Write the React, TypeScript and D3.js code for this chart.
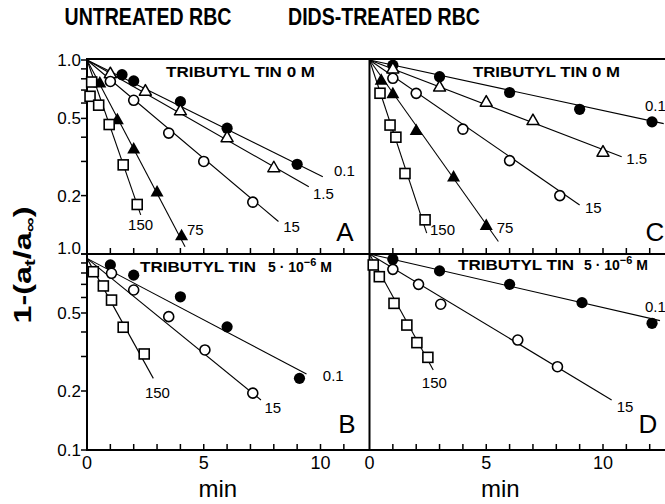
import React from "react";
import * as d3 from "d3";

const W = 665;
const H = 504;
const FONT = "'Liberation Sans', Arial, Helvetica, sans-serif";

// ---------- DATA (time in min, value = 1-(a_t/a_inf)) ----------
// Panel A: untreated RBC, tributyl tin 0 M
const aC01T = [1.5, 2, 4, 6, 9];
const aC01V = [0.84, 0.78, 0.61, 0.445, 0.29];
const aC15T = [1, 2.5, 4, 6, 8];
const aC15V = [0.855, 0.695, 0.55, 0.4, 0.28];
const aC150T = [1, 2, 3.5, 5, 7.1];
const aC150V = [0.775, 0.62, 0.42, 0.3, 0.185];
const aC75T = [0.55, 1.3, 2, 3, 4.05];
const aC75V = [0.765, 0.495, 0.35, 0.21, 0.125];
const aC1500T = [0.2, 0.13, 0.5, 0.95, 1.55, 2.15];
const aC1500V = [0.77, 0.65, 0.585, 0.465, 0.288, 0.18];

// Panel B: untreated RBC, tributyl tin 5e-6 M
const bC01T = [1, 2, 4, 6, 9.1];
const bC01V = [0.88, 0.78, 0.605, 0.425, 0.232];
const bC150T = [1.05, 2, 3.5, 5.05, 7.1];
const bC150V = [0.797, 0.655, 0.479, 0.324, 0.195];
const bC1500T = [0.27, 0.7, 1.05, 1.55, 2.45];
const bC1500V = [0.812, 0.687, 0.582, 0.423, 0.309];

// Panel C: DIDS-treated RBC, tributyl tin 0 M
const cC01T = [1, 3, 6, 9, 12.1];
const cC01V = [0.94, 0.82, 0.68, 0.557, 0.48];
const cC15T = [1, 3, 5, 7, 10];
const cC15V = [0.905, 0.73, 0.61, 0.49, 0.337];
const cC150T = [1, 2, 4, 6, 8.15];
const cC150V = [0.805, 0.673, 0.44, 0.303, 0.2];
const cC75T = [0.5, 1, 2, 3.6, 5];
const cC75V = [0.79, 0.674, 0.436, 0.251, 0.141];
const cC1500T = [0.45, 0.88, 1.13, 1.52, 2.38];
const cC1500V = [0.674, 0.462, 0.4, 0.26, 0.15];

// Panel D: DIDS-treated RBC, tributyl tin 5e-6 M
const dC01T = [1, 3, 6, 9.1, 12.1];
const dC01V = [0.94, 0.82, 0.7, 0.565, 0.443];
const dC150T = [1, 2.1, 3.05, 6.35, 8.05];
const dC150V = [0.835, 0.7, 0.554, 0.364, 0.266];
const dC1500T = [0.16, 0.42, 1.05, 1.6, 2.03, 2.5];
const dC1500V = [0.879, 0.766, 0.56, 0.434, 0.353, 0.297];

// fitted lines: [start t, start v, end t, end v]
const aLines = [[0, 1, 10.1, 0.25], [0, 1, 9.5, 0.222], [0, 1, 8.2, 0.147], [0, 1, 4.2, 0.109], [0, 1, 2.3, 0.159]];
const bLines = [[0, 0.95, 9.4, 0.244], [0, 0.95, 7.45, 0.18], [0, 0.95, 2.84, 0.232]];
const cLines = [[0, 1, 12.6, 0.47], [0, 1, 10.8, 0.317], [0, 1, 9.0, 0.179], [0, 1, 5.52, 0.116], [0, 1, 2.45, 0.128]];
const dLines = [[0, 1, 12.44, 0.457], [0, 1, 10.37, 0.18], [0, 1, 2.73, 0.256]];

// concentration labels and where they sit (t, v)
const aLabels = ["0.1", "1.5", "15", "75", "150"];
const aLabelAt = [[10.58, 0.268], [9.68, 0.205], [8.4, 0.139], [4.28, 0.133], [1.76, 0.141]];
const bLabels = ["0.1", "15", "150"];
const bLabelAt = [[10.1, 0.238], [7.6, 0.165], [2.48, 0.196]];
const cLabels = ["0.1", "1.5", "15", "75", "150"];
const cLabelAt = [[11.8, 0.579], [11.0, 0.309], [9.23, 0.174], [5.45, 0.137], [2.59, 0.133]];
const dLabels = ["0.1", "15", "150"];
const dLabelAt = [[11.8, 0.538], [10.59, 0.166], [2.24, 0.221]];

const yTickVals = [0.1, 0.2, 0.3, 0.4, 0.5, 0.6, 0.7, 0.8, 0.9, 1.0];
const yLabelsTop = ["1.0", "0.5", "0.2"];
const yLabelsBot = ["1.0", "0.5", "0.2", "0.1"];
const xLabelVals = [0, 5, 10];
const columnTitles = ["UNTREATED RBC", "DIDS-TREATED RBC"];
const panelLetters = ["A", "B", "C", "D"];

type Mk = "fc" | "oc" | "ot" | "ft" | "os";

function Marker({ type, x, y }: { type: Mk; x: number; y: number }) {
  const sw = 1.6;
  switch (type) {
    case "fc":
      return <circle cx={x} cy={y} r={5.6} fill="#000" />;
    case "oc":
      return <circle cx={x} cy={y} r={5} fill="#fff" stroke="#000" strokeWidth={sw} />;
    case "os":
      return <rect x={x - 5} y={y - 5} width={10} height={10} fill="#fff" stroke="#000" strokeWidth={sw} />;
    case "ot":
      return <path d={`M${x},${y - 6} L${x + 6},${y + 4.5} L${x - 6},${y + 4.5}Z`} fill="#fff" stroke="#000" strokeWidth={1.5} strokeLinejoin="round" />;
    case "ft":
      return <path d={`M${x},${y - 6.5} L${x + 6.5},${y + 5} L${x - 6.5},${y + 5}Z`} fill="#000" />;
  }
  return null;
}

const x0L = 87;
const x0R = 369.5;
const pxPerMin = 23.35;
const yTop0 = 60;
const yMid = 254;
const yBot = 450;

const xL = d3.scaleLinear().domain([0, (x0R - x0L) / pxPerMin]).range([x0L, x0R]);
const xR = d3.scaleLinear().domain([0, (W - x0R) / pxPerMin]).range([x0R, W]);
const yT = d3.scaleLog().domain([0.1, 1]).range([yMid, yTop0]);
const yB = d3.scaleLog().domain([0.1, 1]).range([yBot, yMid]);

type Series = { mk: Mk; t: number[]; v: number[] };
type Panel = {
  x: d3.ScaleLinear<number, number>;
  y: d3.ScaleLogarithmic<number, number>;
  series: Series[];
  lines: number[][];
  labels: string[];
  labelAt: number[][];
};

const panels: Panel[] = [
  {
    x: xL, y: yT,
    series: [
      { mk: "fc", t: aC01T, v: aC01V },
      { mk: "ot", t: aC15T, v: aC15V },
      { mk: "oc", t: aC150T, v: aC150V },
      { mk: "ft", t: aC75T, v: aC75V },
      { mk: "os", t: aC1500T, v: aC1500V },
    ],
    lines: aLines, labels: aLabels, labelAt: aLabelAt,
  },
  {
    x: xL, y: yB,
    series: [
      { mk: "fc", t: bC01T, v: bC01V },
      { mk: "oc", t: bC150T, v: bC150V },
      { mk: "os", t: bC1500T, v: bC1500V },
    ],
    lines: bLines, labels: bLabels, labelAt: bLabelAt,
  },
  {
    x: xR, y: yT,
    series: [
      { mk: "fc", t: cC01T, v: cC01V },
      { mk: "ot", t: cC15T, v: cC15V },
      { mk: "oc", t: cC150T, v: cC150V },
      { mk: "ft", t: cC75T, v: cC75V },
      { mk: "os", t: cC1500T, v: cC1500V },
    ],
    lines: cLines, labels: cLabels, labelAt: cLabelAt,
  },
  {
    x: xR, y: yB,
    series: [
      { mk: "fc", t: dC01T, v: dC01V },
      { mk: "oc", t: dC150T, v: dC150V },
      { mk: "os", t: dC1500T, v: dC1500V },
    ],
    lines: dLines, labels: dLabels, labelAt: dLabelAt,
  },
];

const lineGen = d3.line<number[]>();

export default function App() {
  const axisW = 2;
  const tickLen = 6;
  const ticksL = d3.range(1, 12);
  const ticksR = d3.range(1, 13);

  return (
    <svg width={W} height={H} viewBox={`0 0 ${W} ${H}`} style={{ position: "absolute", left: 0, top: 0, background: "#fff" }} fontFamily={FONT}>
      <rect x={0} y={0} width={W} height={H} fill="#fff" />
      {/* column titles */}
      <text x={148} y={25} textAnchor="middle" fontSize={23} fontWeight="bold" textLength={167} lengthAdjust="spacingAndGlyphs">{columnTitles[0]}</text>
      <text x={384} y={25} textAnchor="middle" fontSize={23} fontWeight="bold" textLength={192} lengthAdjust="spacingAndGlyphs">{columnTitles[1]}</text>

      {/* lines */}
      {panels.map((p, pi) => (
        <g key={"l" + pi}>
          {p.lines.map((l, li) => (
            <path key={li} d={lineGen([[p.x(l[0]), p.y(l[1])], [p.x(l[2]), p.y(l[3])]]) || ""} stroke="#000" strokeWidth={1.1} fill="none" />
          ))}
        </g>
      ))}

      {/* frame */}
      <line x1={x0L} x2={x0L} y1={yTop0 - 1} y2={yBot} stroke="#000" strokeWidth={axisW} />
      <line x1={x0R} x2={x0R} y1={yTop0 - 1} y2={yBot} stroke="#000" strokeWidth={axisW} />
      <line x1={x0L - 1} x2={W} y1={yTop0 - 1} y2={yTop0 - 1} stroke="#000" strokeWidth={axisW} />
      <line x1={x0L - 1} x2={W} y1={yMid} y2={yMid} stroke="#000" strokeWidth={axisW} />
      <line x1={x0L - 1} x2={W} y1={yBot} y2={yBot} stroke="#000" strokeWidth={axisW} />

      {/* x ticks */}
      {[yMid, yBot].map((yy) => (
        <g key={"xt" + yy}>
          {ticksL.map((t) => (
            <line key={"L" + t} x1={xL(t)} x2={xL(t)} y1={yy} y2={yy - tickLen} stroke="#000" strokeWidth={1.5} />
          ))}
          {ticksR.map((t) => (
            <line key={"R" + t} x1={xR(t)} x2={xR(t)} y1={yy} y2={yy - tickLen} stroke="#000" strokeWidth={1.5} />
          ))}
        </g>
      ))}
      {/* x tick labels */}
      {[xL, xR].map((sc, i) => (
        <g key={"xl" + i}>
          {xLabelVals.map((v) => (
            <text key={v} x={sc(v)} y={469} textAnchor="middle" fontSize={18}>{String(v)}</text>
          ))}
          <text x={sc(5.6)} y={497} textAnchor="middle" fontSize={24}>min</text>
        </g>
      ))}

      {/* y ticks */}
      {[yT, yB].map((sc, i) => (
        <g key={"yt" + i}>
          {yTickVals.map((v) => (
            <line key={v} x1={x0L - tickLen} x2={x0L} y1={sc(v)} y2={sc(v)} stroke="#000" strokeWidth={1.5} />
          ))}
        </g>
      ))}
      {yLabelsTop.map((s) => (
        <text key={"yt" + s} x={81} y={yT(+s)} dy="0.35em" textAnchor="end" fontSize={17}>{s}</text>
      ))}
      {yLabelsBot.map((s) => (
        <text key={"yb" + s} x={81} y={+s === 1 ? yB(1) - 6 : yB(+s)} dy="0.35em" textAnchor="end" fontSize={17}>{s}</text>
      ))}

      {/* y axis title */}
      <text transform="translate(31,265) rotate(-90)" textAnchor="middle" fontSize={23} fontWeight="bold" textLength={117} lengthAdjust="spacingAndGlyphs">
        1-(a<tspan fontSize={15} dy={4}>t</tspan><tspan dy={-4}>/a</tspan><tspan fontSize={15} dy={4}>∞</tspan><tspan dy={-4}>)</tspan>
      </text>

      {/* panel notes */}
      <text x={166} y={76.5} fontSize={14} fontWeight="bold" textLength={149} lengthAdjust="spacingAndGlyphs">TRIBUTYL  TIN  0 M</text>
      <text x={473} y={76.5} fontSize={14} fontWeight="bold" textLength={147} lengthAdjust="spacingAndGlyphs">TRIBUTYL  TIN  0 M</text>
      <text x={140} y={271.5} fontSize={14} fontWeight="bold">
        <tspan textLength={116} lengthAdjust="spacingAndGlyphs">TRIBUTYL  TIN</tspan>
        <tspan x={268}>5 · 10</tspan>
        <tspan dy={-6} fontSize={11}>−6</tspan>
        <tspan dy={6} dx={4}>M</tspan>
      </text>
      <text x={458} y={270} fontSize={14} fontWeight="bold">
        <tspan textLength={116} lengthAdjust="spacingAndGlyphs">TRIBUTYL  TIN</tspan>
        <tspan x={584}>5 · 10</tspan>
        <tspan dy={-6} fontSize={11}>−6</tspan>
        <tspan dy={6} dx={4}>M</tspan>
      </text>

      {/* markers */}
      {panels.map((p, pi) => (
        <g key={"m" + pi}>
          {p.series.map((s, si) => (
            <g key={si}>
              {s.t.map((t, i) => (
                <Marker key={i} type={s.mk} x={p.x(t)} y={p.y(s.v[i])} />
              ))}
            </g>
          ))}
        </g>
      ))}

      {/* concentration labels */}
      {panels.map((p, pi) => (
        <g key={"c" + pi}>
          {p.labels.map((s, i) => (
            <text key={i} x={p.x(p.labelAt[i][0])} y={p.y(p.labelAt[i][1])} dy="0.35em" fontSize={15}>{s}</text>
          ))}
        </g>
      ))}

      {/* panel letters */}
      {panelLetters.map((s, i) => {
        const xx = i < 2 ? 345 : 655;
        const yy = i % 2 === 0 ? 241 : 432.5;
        return (
          <text key={s} x={xx - (i === 3 ? 7 : 0) + (i === 1 ? 2 : 0)} y={yy} textAnchor="middle" fontSize={26}>{s}</text>
        );
      })}
    </svg>
  );
}
